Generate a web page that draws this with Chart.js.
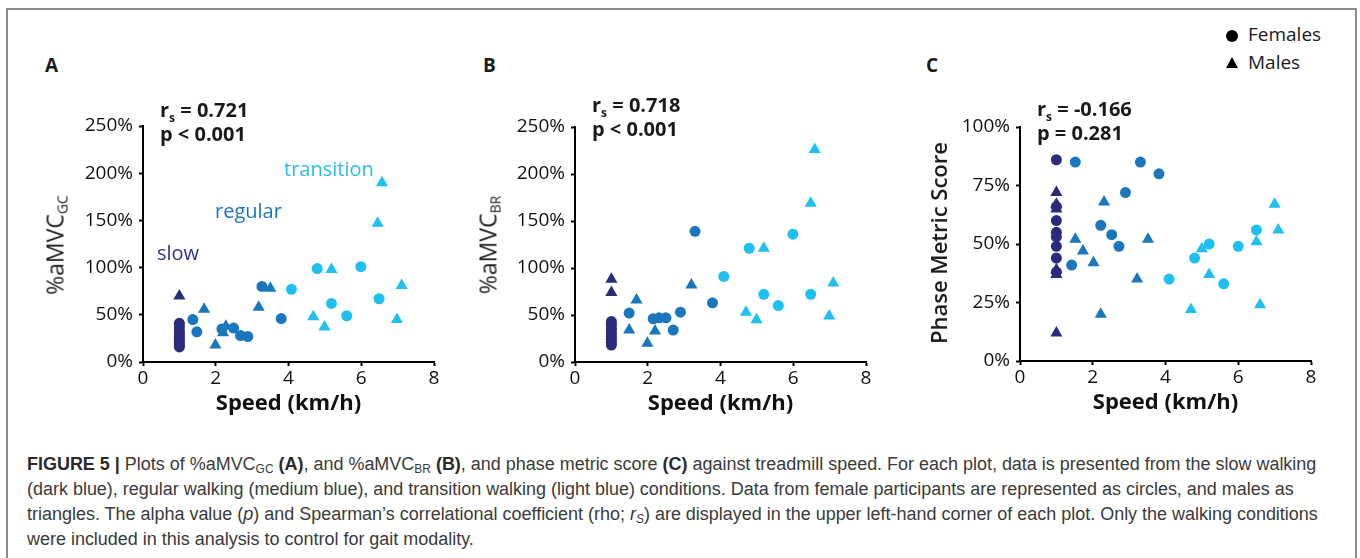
<!DOCTYPE html>
<html>
<head>
<meta charset="utf-8">
<script src="https://cdn.jsdelivr.net/npm/chart.js@4.4.1/dist/chart.umd.min.js"></script>
<style>
  body { margin: 0; width: 1360px; height: 558px; overflow: hidden; background: #fff; position: relative; font-family: "Open Sans", sans-serif; color: #1a1a1a; }
  .frame { position: absolute; left: 6px; top: 8px; width: 1347px; height: 620px; border: 2px solid #8c8c8c; border-bottom: none; }
  canvas { position: absolute; }
  .t { position: absolute; white-space: nowrap; line-height: 1; }
  .letter { font-size: 19px; font-weight: 700; }
  .stats { font-size: 20px; font-weight: 700; line-height: 24px; }
  .stats sub { font-size: 12px; line-height: 0; vertical-align: -5px; }
  .cond { font-size: 20px; }
  .ytitle { font-size: 23px; transform: translate(-50%, -50%) rotate(-90deg); }
  .ytitle sub { font-size: 14px; line-height: 0; vertical-align: -4px; }
  .legend { font-size: 19px; }
  .dot { position: absolute; width: 12px; height: 12px; border-radius: 50%; background: #000; }
  .tri { position: absolute; width: 0; height: 0; border-left: 6px solid transparent; border-right: 6px solid transparent; border-bottom: 11px solid #000; }
  .caption { position: absolute; left: 27px; top: 452px; font-family: "Liberation Sans Narrow", "Liberation Sans", Arial, sans-serif; font-size: 18px; line-height: 25px; color: #3a3a3a; white-space: nowrap; transform-origin: left top; }
  .caption b { color: #2a2a2a; }
  .caption sub { font-size: 12px; line-height: 0; vertical-align: -3px; }
</style>
</head>
<body>
<div class="frame"></div>

<canvas id="chartA"></canvas>
<canvas id="chartB"></canvas>
<canvas id="chartC"></canvas>

<div class="t letter" style="left:45px; top:56px;">A</div>
<div class="t letter" style="left:483px; top:56px;">B</div>
<div class="t letter" style="left:926px; top:56px;">C</div>

<div class="t stats" style="left:160px; top:98px;">r<sub>s</sub> = 0.721<br>p &lt; 0.001</div>
<div class="t stats" style="left:592px; top:93px;">r<sub>s</sub> = 0.718<br>p &lt; 0.001</div>
<div class="t stats" style="left:1037px; top:97px;">r<sub>s</sub> = -0.166<br>p = 0.281</div>

<div class="t cond" style="left:157px; top:243px; color:#2e3192;">slow</div>
<div class="t cond" style="left:215px; top:201px; color:#1c75bc;">regular</div>
<div class="t cond" style="left:284px; top:159px; color:#27bdee;">transition</div>

<div class="t ytitle" style="left:55px; top:245px;">%aMVC<sub>GC</sub></div>
<div class="t ytitle" style="left:488px; top:245px;">%aMVC<sub>BR</sub></div>
<div class="t ytitle" style="left:938px; top:243px; font-size:22px; font-weight:600;">Phase Metric Score</div>

<div class="dot" style="left:1226px; top:30px;"></div>
<div class="t legend" style="left:1248px; top:25px;">Females</div>
<div class="tri" style="left:1226px; top:57px;"></div>
<div class="t legend" style="left:1248px; top:53px;">Males</div>

<div class="caption" id="caption"><b>FIGURE 5 |</b> Plots of %aMVC<sub>GC</sub> <b>(A)</b>, and %aMVC<sub>BR</sub> <b>(B)</b>, and phase metric score <b>(C)</b> against treadmill speed. For each plot, data is presented from the slow walking<br>(dark blue), regular walking (medium blue), and transition walking (light blue) conditions. Data from female participants are represented as circles, and males as<br>triangles. The alpha value (<i>p</i>) and Spearman’s correlational coefficient (rho; <i>r<sub>S</sub></i>) are displayed in the upper left-hand corner of each plot. Only the walking conditions<br>were included in this analysis to control for gait modality.</div>

<script>
// speed of the slow walking condition
const slowSpeed = 1;

// A: %aMVC_GC  (slow values at 1 km/h, others [speed, value])
const gcSlowF = [41, 37, 33, 30, 27, 24, 21, 18, 16];
const gcSlowM = [70];
const gcRegF = [[1.37, 45], [1.48, 32], [2.17, 35], [2.49, 36], [2.68, 28], [2.88, 27], [3.27, 80], [3.8, 46]];
const gcRegM = [[1.68, 56], [1.99, 18], [2.2, 31], [2.28, 38], [3.18, 58], [3.5, 78]];
const gcTrF = [[4.08, 77], [4.79, 99], [5.18, 62], [5.6, 49], [5.99, 101], [6.49, 67]];
const gcTrM = [[4.68, 48], [4.99, 37], [5.18, 98], [6.45, 147], [6.57, 190], [6.98, 45], [7.11, 81]];

// B: %aMVC_BR
const brSlowF = [43, 40, 36, 33, 30, 27, 24, 21, 18];
const brSlowM = [88, 74];
const brRegF = [[1.49, 52], [2.15, 46], [2.31, 47], [2.5, 47], [2.7, 34], [2.9, 53], [3.3, 139], [3.78, 63]];
const brRegM = [[1.49, 34], [1.69, 66], [1.99, 20], [2.2, 33], [3.2, 82]];
const brTrF = [[4.09, 91], [4.79, 121], [5.19, 72], [5.59, 60], [5.99, 136], [6.48, 72]];
const brTrM = [[4.7, 53], [4.99, 45], [5.19, 121], [6.48, 169], [6.59, 226], [6.99, 49], [7.1, 84]];

// C: phase metric score
const pmSlowF = [86, 66, 60, 55, 53, 49, 44, 38];
const pmSlowM = [72, 67, 65, 39, 37, 12];
const pmRegF = [[1.42, 41], [1.52, 85], [2.22, 58], [2.52, 54], [2.72, 49], [2.9, 72], [3.31, 85], [3.82, 80]];
const pmRegM = [[1.52, 52], [1.73, 47], [2.02, 42], [2.22, 20], [2.31, 68], [3.22, 35], [3.52, 52]];
const pmTrF = [[4.1, 35], [4.8, 44], [5.2, 50], [5.6, 33], [6.0, 49], [6.5, 56]];
const pmTrM = [[4.7, 22], [5.0, 48], [5.2, 37], [6.5, 51], [6.6, 24], [7.0, 67], [7.1, 56]];

const xTicks = [0, 2, 4, 6, 8];

const NAVY = "#2b2b7c";
const MID = "#1a77bd";
const LIGHT = "#1ec0ef";

function set(points, color, shape) {
    return {
        data: points.map(p => ({x: p[0], y: p[1]})),
        pointStyle: shape,
        pointRadius: shape === "circle" ? 5.5 : 7,
        backgroundColor: color,
        borderColor: color,
        borderWidth: 0,
        clip: false,
    };
}

function groups(slowF, slowM, regF, regM, trF, trM) {
    const slow = v => [slowSpeed, v];
    return [
        set(regF, MID, "circle"), set(regM, MID, "triangle"),
        set(trF, LIGHT, "circle"), set(trM, LIGHT, "triangle"),
        set(slowM.map(slow), NAVY, "triangle"), set(slowF.map(slow), NAVY, "circle"),
    ];
}

// places the plot area at page pixels x0..x8, yTop..yBot
function drawPanel(id, datasets, yMax, yStep, x0, x8, yTop, yBot) {
    const padL = 20, yW = 70, padT = 20, padR = 20, xH = 55, padB = 5;
    const canvas = document.getElementById(id);
    const left = x0 - yW - padL, top = yTop - padT;
    canvas.width = x8 + padR - left;
    canvas.height = yBot + xH + padB - top;
    canvas.style.left = left + "px";
    canvas.style.top = top + "px";

    const axisGrid = {drawOnChartArea: false, tickLength: 4, tickColor: "#000", tickWidth: 2};
    new Chart(canvas, {
        type: "scatter",
        data: {datasets: datasets},
        options: {
            responsive: false,
            animation: false,
            layout: {padding: {left: padL, top: padT, right: padR, bottom: padB}},
            plugins: {legend: {display: false}, tooltip: {enabled: false}},
            scales: {
                x: {
                    type: "linear", min: xTicks[0], max: xTicks[xTicks.length - 1],
                    afterBuildTicks: s => { s.ticks = xTicks.map(v => ({value: v})); },
                    ticks: {padding: 1, font: {size: 19}, color: "#111"},
                    grid: axisGrid,
                    border: {color: "#000", width: 2},
                    title: {display: true, text: "Speed (km/h)", font: {size: 22, weight: "bold"}, color: "#111", padding: 0},
                    afterFit: s => { s.height = xH; },
                },
                y: {
                    min: 0, max: yMax,
                    ticks: {stepSize: yStep, padding: 6, font: {size: 19}, color: "#111", callback: v => v + "%"},
                    grid: axisGrid,
                    border: {color: "#000", width: 2},
                    afterFit: s => { s.width = yW; },
                },
            },
        },
    });
}

function fitCaption() {
    const cap = document.getElementById("caption");
    const k = 1291 / cap.scrollWidth;
    cap.style.transform = "scaleX(" + k + ")";
}

Chart.defaults.font.family = "'Open Sans', sans-serif";

Promise.all([
    document.fonts.load("19px 'Open Sans'"),
    document.fonts.load("bold 22px 'Open Sans'"),
    document.fonts.load("18px 'Liberation Sans'"),
]).catch(() => {}).then(() => {
    drawPanel("chartA", groups(gcSlowF, gcSlowM, gcRegF, gcRegM, gcTrF, gcTrM), 250, 50, 143, 434, 126, 362);
    drawPanel("chartB", groups(brSlowF, brSlowM, brRegF, brRegM, brTrF, brTrM), 250, 50, 575, 866, 127, 362);
    drawPanel("chartC", groups(pmSlowF, pmSlowM, pmRegF, pmRegM, pmTrF, pmTrM), 100, 25, 1020, 1311, 127, 361);
    fitCaption();
});
</script>
</body>
</html>
